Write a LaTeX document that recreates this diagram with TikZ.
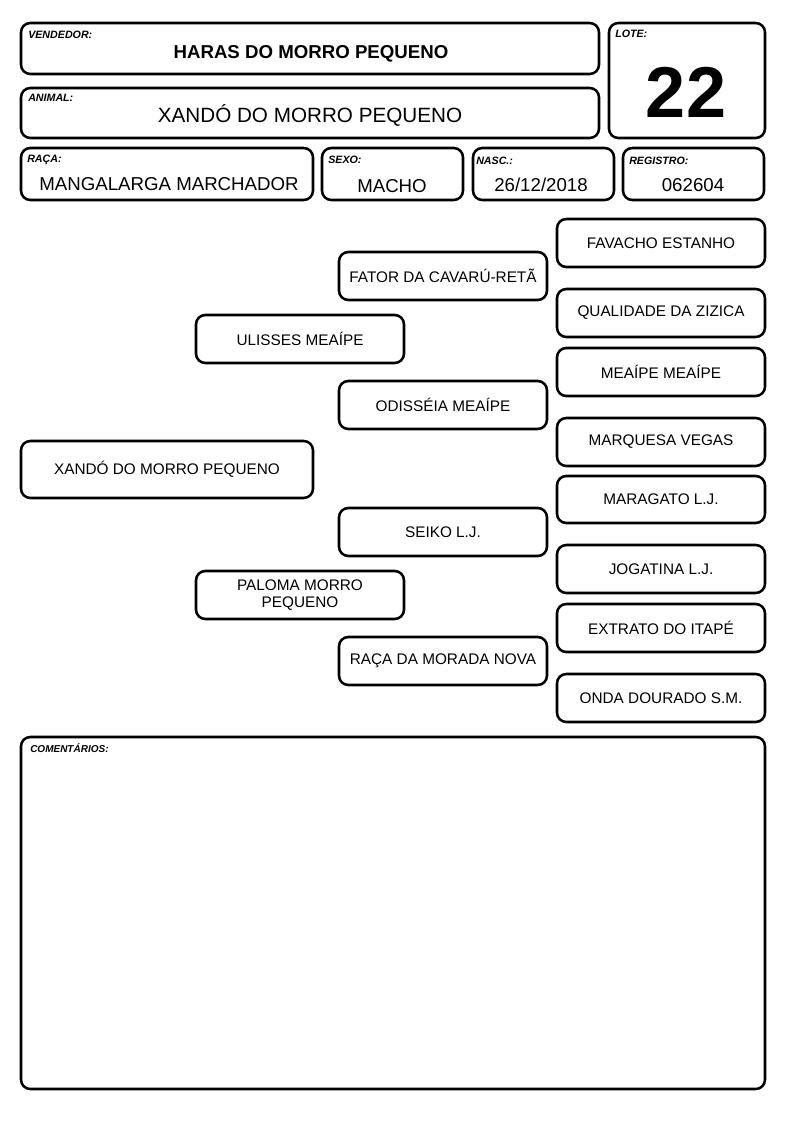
\documentclass[tikz,border=0pt]{standalone}
\usepackage{fontspec}
\setmainfont{Liberation Sans}
\usetikzlibrary{fit}
\begin{document}
\begin{tikzpicture}[x=0.75pt,y=-0.75pt,
  box/.style={draw, line width=1.9pt, rounded corners=7pt, inner sep=0pt},
  ptxt/.style={inner sep=0pt, font=\fontsize{11.5}{12.5}\selectfont, align=center},
  lbl/.style={anchor=base west, inner sep=0pt, font=\fontsize{8}{9}\selectfont\bfseries\itshape},
  val/.style={anchor=base, inner sep=0pt, font=\fontsize{14}{16}\selectfont}]
\fill[white] (0,0) rectangle (794,1123);
\useasboundingbox (0,0) rectangle (794,1123);
% header
\node[box, fit={(21,23) (599,74)}] (vend) {};
\node[lbl] (vendl) at (28,39) {VENDEDOR:};
\node[val, font=\fontsize{14}{16}\selectfont\bfseries] (vendv) at (311,59) {HARAS DO MORRO PEQUENO};
\node[box, fit={(609,23) (765,138)}] (lote) {};
\node[lbl] (lotel) at (615,38) {LOTE:};
\node[val, font=\fontsize{54}{56}\selectfont\bfseries] (lotev) at (686,118) {22};
\node[box, fit={(21,88) (599,138)}] (anim) {};
\node[lbl] (animl) at (28,102) {ANIMAL:};
\node[val, font=\fontsize{15.5}{17}\selectfont] (animv) at (310,123) {XANDÓ DO MORRO PEQUENO};
\node[box, fit={(21,148) (313,200)}] (raca) {};
\node[lbl] (racal) at (27,163) {RAÇA:};
\node[val] (racav) at (169,191) {MANGALARGA MARCHADOR};
\node[box, fit={(322,148) (463,200)}] (sexo) {};
\node[lbl] (sexol) at (328,164) {SEXO:};
\node[val] (sexov) at (392,193) {MACHO};
\node[box, fit={(473,148) (614,200)}] (nasc) {};
\node[lbl] (nascl) at (476,165) {NASC.:};
\node[val] (nascv) at (541,192) {26/12/2018};
\node[box, fit={(623,148) (764,200)}] (reg) {};
\node[lbl] (regl) at (629,165) {REGISTRO:};
\node[val] (regv) at (693,192) {062604};
% pedigree boxes
\node[box, fit={(21,441) (313,498)}] (a0) {};
\node[box, fit={(196,315) (404,363)}] (b1) {};
\node[box, fit={(196,571) (404,619)}] (b2) {};
\node[box, fit={(339,252) (547,300)}] (c1) {};
\node[box, fit={(339,381) (547,429)}] (c2) {};
\node[box, fit={(339,508) (547,556)}] (c3) {};
\node[box, fit={(339,637) (547,685)}] (c4) {};
\node[box, fit={(557,219) (765,267)}] (d1) {};
\node[box, fit={(557,289) (765,337)}] (d2) {};
\node[box, fit={(557,348) (765,396)}] (d3) {};
\node[box, fit={(557,418) (765,466)}] (d4) {};
\node[box, fit={(557,476) (765,523)}] (d5) {};
\node[box, fit={(557,545) (765,593)}] (d6) {};
\node[box, fit={(557,604) (765,652)}] (d7) {};
\node[box, fit={(557,674) (765,722)}] (d8) {};
% pedigree names
\node[ptxt] (a0t) at (a0.center) {XANDÓ DO MORRO PEQUENO};
\node[ptxt] (b1t) at (b1.center) {ULISSES MEAÍPE};
\node[ptxt] (b2t) at (b2.center) {PALOMA MORRO\\PEQUENO};
\node[ptxt] (c1t) at (c1.center) {FATOR DA CAVARÚ-RETÃ};
\node[ptxt] (c2t) at (c2.center) {ODISSÉIA MEAÍPE};
\node[ptxt] (c3t) at (c3.center) {SEIKO L.J.};
\node[ptxt] (c4t) at (c4.center) {RAÇA DA MORADA NOVA};
\node[ptxt] (d1t) at (d1.center) {FAVACHO ESTANHO};
\node[ptxt] (d2t) at (d2.center) {QUALIDADE DA ZIZICA};
\node[ptxt] (d3t) at (d3.center) {MEAÍPE MEAÍPE};
\node[ptxt] (d4t) at (d4.center) {MARQUESA VEGAS};
\node[ptxt] (d5t) at (d5.center) {MARAGATO L.J.};
\node[ptxt] (d6t) at (d6.center) {JOGATINA L.J.};
\node[ptxt] (d7t) at (d7.center) {EXTRATO DO ITAPÉ};
\node[ptxt] (d8t) at (d8.center) {ONDA DOURADO S.M.};
% comments
\node[box, fit={(21,737) (765,1089)}] (com) {};
\node[lbl, font=\fontsize{7.5}{9}\selectfont\bfseries\itshape] (coml) at (30,752) {COMENTÁRIOS:};
\end{tikzpicture}
\end{document}
